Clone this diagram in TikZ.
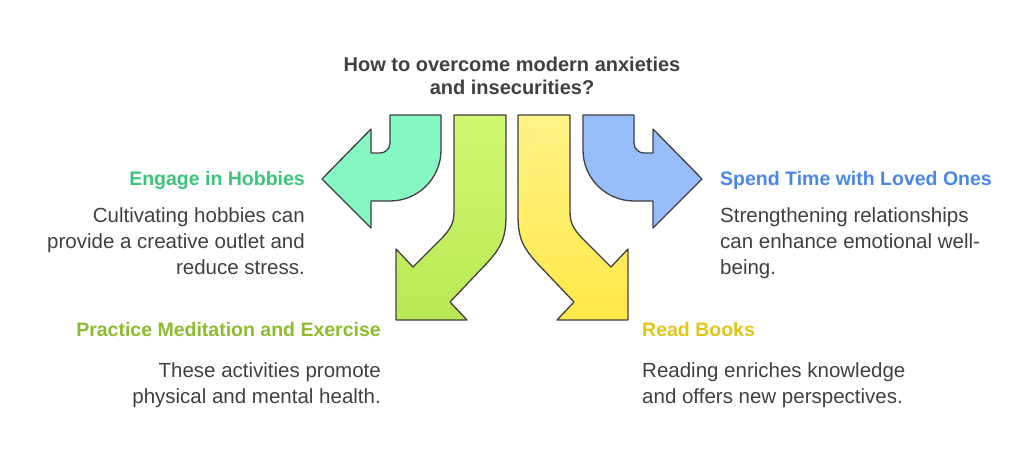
\documentclass[tikz,border=0pt]{standalone}
\usepackage{fontspec}
\setmainfont{Liberation Sans}
\begin{document}
\begin{tikzpicture}[x=1pt,y=-1pt,
  arr/.style={draw=black!75,line width=1.3pt,line join=round},
  head/.style={font=\bfseries\fontsize{19.5}{22}\selectfont,inner sep=0pt},
  body/.style={font=\fontsize{20.5}{26}\selectfont,inner sep=0pt,align=#1},
]
\useasboundingbox (0,0) rectangle (1024,461);
% teal arrow
\path[arr,fill={rgb,255:red,134;green,247;blue,194}]
 (390,115) -- (441,115) -- (441,150) arc[start angle=0,end angle=90,radius=51] -- (371,201) -- (371,228) -- (322,179) -- (371,129) -- (371,153) -- (380,153) arc[start angle=90,end angle=0,radius=10] -- cycle;
% blue arrow
\path[arr,fill={rgb,255:red,151;green,190;blue,251}]
 (634,115) -- (583,115) -- (583,150) arc[start angle=180,end angle=90,radius=51] -- (653,201) -- (653,228) -- (702,179) -- (653,129) -- (653,153) -- (644,153) arc[start angle=90,end angle=180,radius=10] -- cycle;
% lime arrow
\path[arr,top color={rgb,255:red,208;green,248;blue,114},bottom color={rgb,255:red,186;green,232;blue,84}]
 (454,115) -- (506,115) -- (506,215) .. controls (506,240) and (500,248) .. (488,262) -- (450,302) -- (467,320) -- (396,320) -- (396,249) -- (413,267) -- (440,240) .. controls (452,228) and (454,222) .. (454,210) -- cycle;
% yellow arrow
\path[arr,top color={rgb,255:red,255;green,243;blue,135},bottom color={rgb,255:red,255;green,232;blue,72}]
 (570,115) -- (518,115) -- (518,215) .. controls (518,240) and (524,248) .. (536,262) -- (574,302) -- (557,320) -- (628,320) -- (628,249) -- (611,267) -- (584,240) .. controls (572,228) and (570,222) .. (570,210) -- cycle;
% title
\node[font=\bfseries\fontsize{20}{23}\selectfont,text=black!75,align=center] (title) at (512,76) {How to overcome modern anxieties\\and insecurities?};
% left texts
\node[head,anchor=east,text={rgb,255:red,60;green,196;blue,122}] (h1) at (305,180) {Engage in Hobbies};
\node[body=right,anchor=north east,text=black!75] (b1) at (305,207) {Cultivating hobbies can\\provide a creative outlet and\\reduce stress.};
\node[head,anchor=east,text={rgb,255:red,141;green,186;blue,46}] (h2) at (381,330) {Practice Meditation and Exercise};
\node[body=right,anchor=north east,text=black!75] (b2) at (381,362) {These activities promote\\physical and mental health.};
% right texts
\node[head,anchor=west,text={rgb,255:red,74;green,134;blue,232}] (h3) at (720,180) {Spend Time with Loved Ones};
\node[body=left,anchor=north west,text=black!75] (b3) at (720,207) {Strengthening relationships\\can enhance emotional well-\\being.};
\node[head,anchor=west,text={rgb,255:red,227;green,197;blue,26}] (h4) at (642,330) {Read Books};
\node[body=left,anchor=north west,text=black!75] (b4) at (642,362) {Reading enriches knowledge\\and offers new perspectives.};
\end{tikzpicture}
\end{document}
